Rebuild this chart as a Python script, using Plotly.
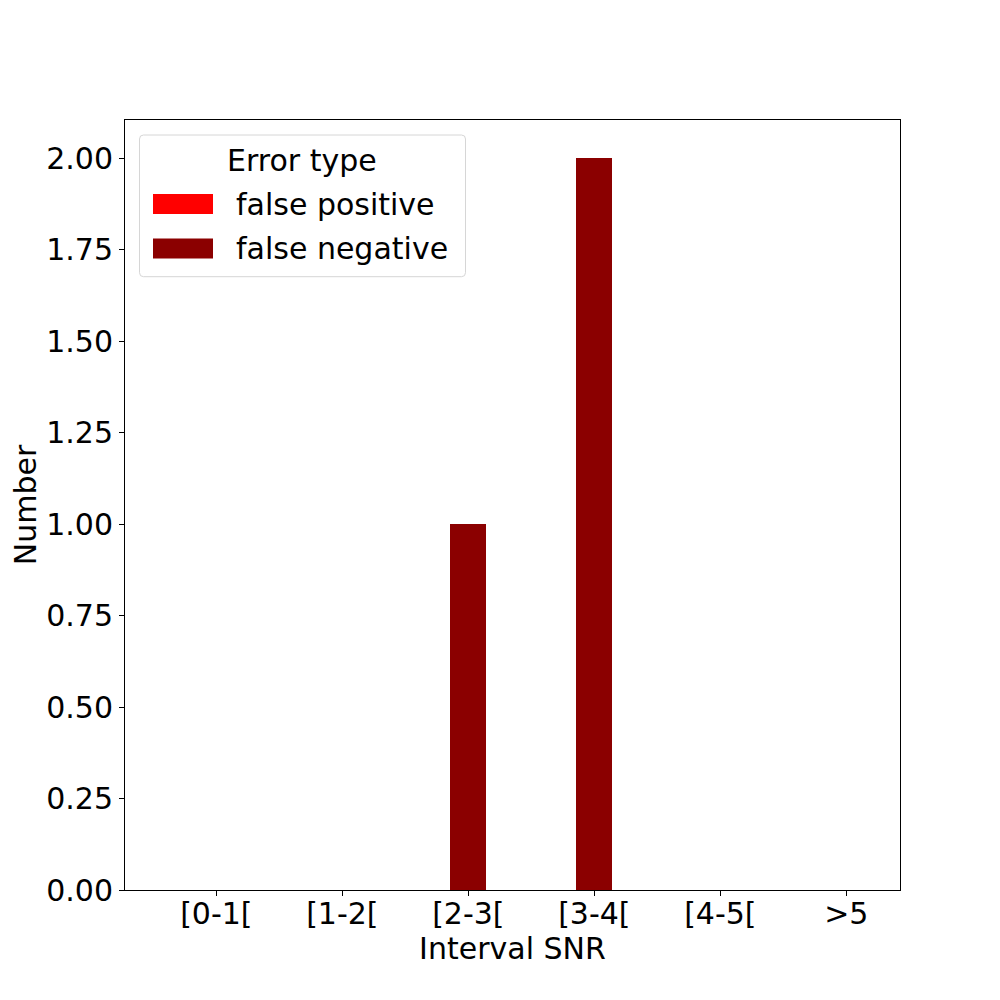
import plotly.graph_objects as go

# data
categories = ["[0-1[", "[1-2[", "[2-3[", "[3-4[", "[4-5[", ">5"]
false_positive = [0, 0, 0, 0, 0, 0]
false_negative = [0, 0, 1, 2, 0, 0]
series_names = ["false positive", "false negative"]
series_colors = ["#ff0000", "#8b0000"]
legend_title = "Error type"
yticks = [0, 0.25, 0.5, 0.75, 1.0, 1.25, 1.5, 1.75, 2.0]

FONT = "DejaVu Sans"
FS = 30
W = 0.285
pos = list(range(len(categories)))

# plot area in pixels (page has an 8px body offset)
OFF = 8
L, R, T, B = 125, 900, 120, 890


def px(x):
    return (x - L) / (R - L)


def py(y):
    return (B - y) / (B - T)


fig = go.Figure()
fig.add_trace(go.Bar(x=[p - W for p in pos], y=false_positive, width=W,
                     name=series_names[0], marker_color=series_colors[0],
                     marker_line_width=0, showlegend=False))
fig.add_trace(go.Bar(x=pos, y=false_negative, width=W,
                     name=series_names[1], marker_color=series_colors[1],
                     marker_line_width=0, showlegend=False))

# legend drawn by hand to get matplotlib-like patches
x0, x1, y0, y1, r = 139.5, 465.5, 135, 276.7, 4
path = (f"M {px(x0 + r)},{py(y0)} L {px(x1 - r)},{py(y0)} "
        f"Q {px(x1)},{py(y0)} {px(x1)},{py(y0 + r)} "
        f"L {px(x1)},{py(y1 - r)} Q {px(x1)},{py(y1)} {px(x1 - r)},{py(y1)} "
        f"L {px(x0 + r)},{py(y1)} Q {px(x0)},{py(y1)} {px(x0)},{py(y1 - r)} "
        f"L {px(x0)},{py(y0 + r)} Q {px(x0)},{py(y0)} {px(x0 + r)},{py(y0)} Z")
shapes = [dict(type="path", xref="paper", yref="paper", path=path,
               fillcolor="rgba(255,255,255,0.8)", line=dict(color="#d6d6d6", width=1))]
annotations = [dict(text=legend_title, xref="paper", yref="paper",
                    x=px(302), y=py(160), xanchor="center", yanchor="middle",
                    showarrow=False, font=dict(family=FONT, size=FS, color="black"))]
for i, (name, col) in enumerate(zip(series_names, series_colors)):
    cy = 204 + i * 44.5
    shapes.append(dict(type="rect", xref="paper", yref="paper",
                       x0=px(153), x1=px(213), y0=py(cy - 10), y1=py(cy + 10),
                       fillcolor=col, line=dict(width=0)))
    annotations.append(dict(text=name, xref="paper", yref="paper",
                            x=px(234), y=py(cy), xanchor="left", yanchor="middle",
                            showarrow=False, font=dict(family=FONT, size=FS, color="black")))

axis_common = dict(showline=True, linecolor="black", linewidth=1, mirror=True,
                   ticks="outside", ticklen=5, tickwidth=1, tickcolor="black",
                   showgrid=False, zeroline=False,
                   tickfont=dict(family=FONT, size=FS, color="black"))

fig.update_layout(
    width=1000, height=1000,
    margin=dict(l=L - OFF, r=1000 - R + OFF, t=T - OFF, b=1000 - B + OFF),
    paper_bgcolor="white", plot_bgcolor="white",
    barmode="overlay", bargap=0,
    font=dict(family=FONT, size=FS, color="black"),
    shapes=shapes, annotations=annotations,
    xaxis=dict(axis_common, range=[-0.725, 5.426], tickvals=pos, ticktext=categories,
               ticklabelstandoff=-8,
               title=dict(text="Interval SNR", standoff=0,
                          font=dict(family=FONT, size=FS, color="black"))),
    yaxis=dict(axis_common, range=[0, 2.104], tickvals=yticks,
               ticktext=[f"{v:.2f}" for v in yticks],
               title=dict(text="Number", standoff=6,
                          font=dict(family=FONT, size=FS, color="black"))),
)

fig.write_html("out.html")
